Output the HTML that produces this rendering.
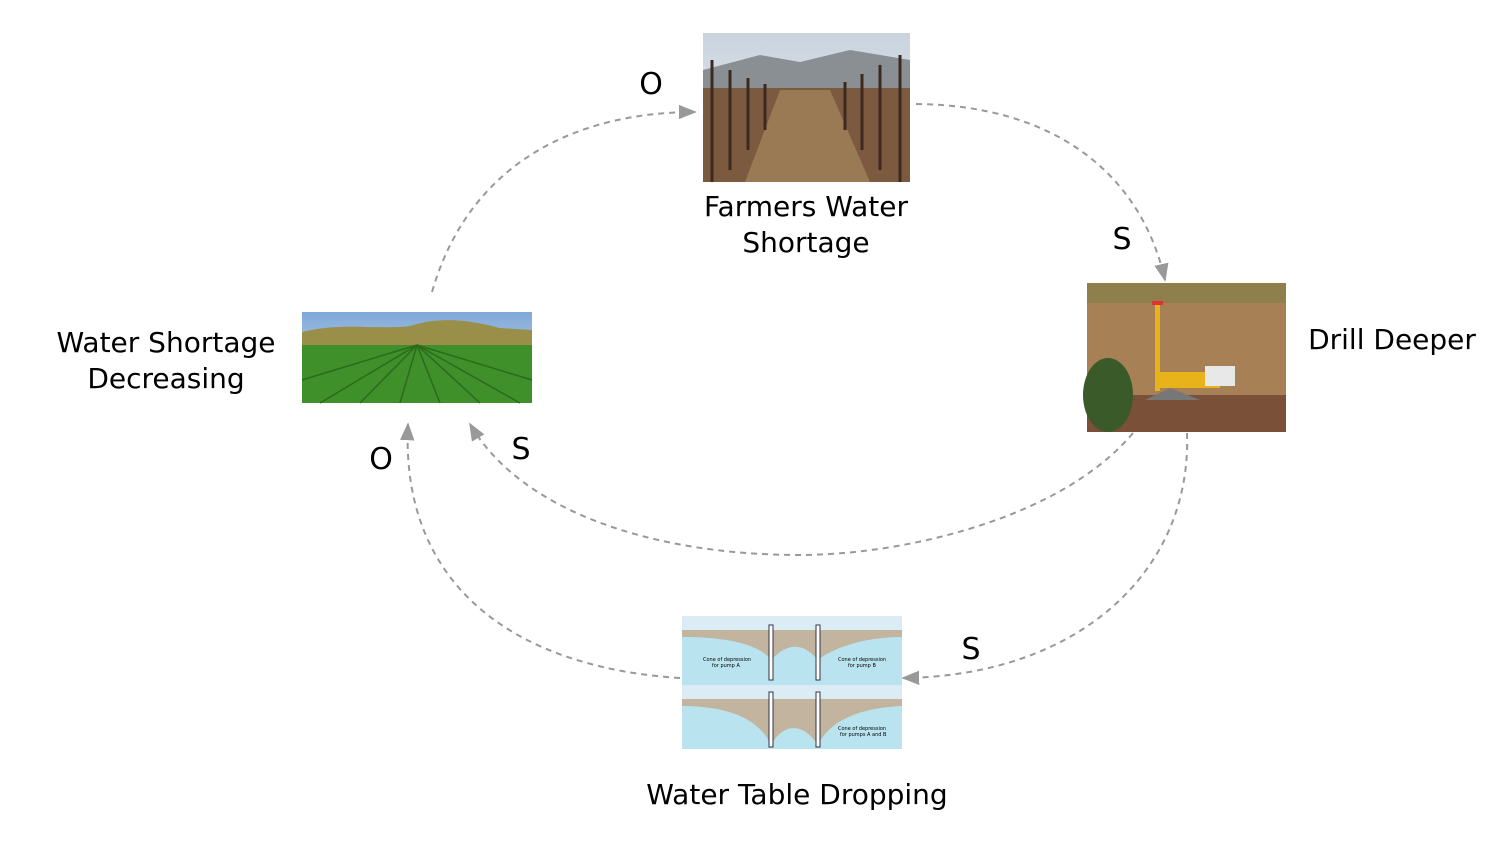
<!DOCTYPE html>
<html><head><meta charset="utf-8"><style>
body{margin:0;background:#fff;width:1508px;height:864px;overflow:hidden;font-family:"Comic Sans MS","DejaVu Sans","Liberation Sans",sans-serif}
svg{position:absolute;left:0;top:0}
text{font-family:"DejaVu Sans","Liberation Sans",sans-serif;fill:#000}
</style></head><body>
<svg width="1508" height="864">
<defs>
<marker id="ah" viewBox="0 0 10 10" refX="9" refY="5" markerWidth="9" markerHeight="9" orient="auto"><path d="M0,1 L10,5 L0,9 Z" fill="#999"/></marker>
<linearGradient id="sky" x1="0" y1="0" x2="0" y2="1"><stop offset="0" stop-color="#7fa8d8"/><stop offset="1" stop-color="#dfe8f0"/></linearGradient>
<linearGradient id="vsky" x1="0" y1="0" x2="0" y2="1"><stop offset="0" stop-color="#c9d3de"/><stop offset="1" stop-color="#eef0f2"/></linearGradient>
</defs>
<g fill="none" stroke="#999" stroke-width="2" stroke-dasharray="6,5">
<path d="M432,292 C470,160 580,112 695,112" marker-end="url(#ah)"/>
<path d="M916,104 C1050,105 1140,170 1165,280" marker-end="url(#ah)"/>
<path d="M1133,433 C1060,520 900,555 800,555 C650,555 520,510 470,424" marker-end="url(#ah)"/>
<path d="M1187,433 C1192,570 1080,676 903,678" marker-end="url(#ah)"/>
<path d="M680,678 C520,668 400,590 408,424" marker-end="url(#ah)"/>
</g>
<!-- vineyard -->
<g>
<rect x="703" y="33" width="207" height="149" fill="url(#vsky)"/>
<path d="M703,70 L760,55 L800,62 L850,50 L910,60 L910,90 L703,90Z" fill="#8a8f94"/>
<rect x="703" y="88" width="207" height="94" fill="#7b5a40"/>
<path d="M780,90 L830,90 L870,182 L745,182Z" fill="#9a7a55"/>
<g stroke="#3c2a1e" stroke-width="3">
<line x1="712" y1="60" x2="712" y2="182"/><line x1="730" y1="70" x2="730" y2="170"/><line x1="748" y1="78" x2="748" y2="150"/><line x1="765" y1="84" x2="765" y2="130"/>
<line x1="900" y1="55" x2="900" y2="182"/><line x1="880" y1="65" x2="880" y2="170"/><line x1="862" y1="74" x2="862" y2="150"/><line x1="845" y1="82" x2="845" y2="130"/>
</g>
</g>
<!-- field -->
<g>
<rect x="302" y="312" width="230" height="91" fill="url(#sky)"/>
<path d="M302,332 C340,322 380,330 410,326 C440,316 470,320 500,328 L532,330 L532,348 L302,348Z" fill="#9a8f48"/>
<rect x="302" y="345" width="230" height="58" fill="#3f8f2a"/>
<g stroke="#2a6b1c" stroke-width="1.5">
<line x1="417" y1="345" x2="320" y2="403"/><line x1="417" y1="345" x2="360" y2="403"/><line x1="417" y1="345" x2="400" y2="403"/><line x1="417" y1="345" x2="440" y2="403"/><line x1="417" y1="345" x2="480" y2="403"/><line x1="417" y1="345" x2="520" y2="403"/><line x1="417" y1="345" x2="302" y2="380"/><line x1="417" y1="345" x2="532" y2="380"/>
</g>
</g>
<!-- drill -->
<g>
<rect x="1087" y="283" width="199" height="149" fill="#a78055"/>
<rect x="1087" y="283" width="199" height="20" fill="#8e7f4c"/>
<rect x="1087" y="395" width="199" height="37" fill="#7a5038"/>
<rect x="1155" y="303" width="5" height="88" fill="#e8b21a"/>
<rect x="1152" y="301" width="11" height="4" fill="#d33"/>
<rect x="1160" y="372" width="60" height="16" fill="#e8b21a"/>
<rect x="1205" y="366" width="30" height="20" fill="#e8e8e8"/>
<path d="M1145,400 L1170,388 L1200,400Z" fill="#777"/>
<ellipse cx="1108" cy="395" rx="25" ry="37" fill="#3b5a2a"/>
</g>
<!-- water table -->
<g>
<rect x="682" y="616" width="220" height="133" fill="#b9e3ee"/>
<rect x="682" y="616" width="220" height="14" fill="#dbecf4"/>
<rect x="682" y="685" width="220" height="14" fill="#dbecf4"/>
<path d="M682,630 L902,630 L902,637 C860,637 830,650 818,660 C805,645 790,640 771,660 C760,645 730,637 682,637Z" fill="#c2b49e"/>
<path d="M682,699 L902,699 L902,706 C860,708 830,720 818,745 C805,725 785,720 771,745 C760,720 730,706 682,706Z" fill="#c2b49e"/>
<g fill="#fff" stroke="#334" stroke-width="1"><rect x="769" y="625" width="4" height="55"/><rect x="816" y="625" width="4" height="55"/><rect x="769" y="692" width="4" height="55"/><rect x="816" y="692" width="4" height="55"/></g>
<g font-size="5" style="font-family:'Liberation Sans',sans-serif"><text x="703" y="661">Cone of depression</text><text x="712" y="667">for pump A</text><text x="838" y="661">Cone of depression</text><text x="848" y="667">for pump B</text><text x="838" y="730">Cone of depression</text><text x="840" y="736">for pumps A and B</text></g>
</g>
<g font-size="28">
<text x="806" y="216" text-anchor="middle">Farmers Water</text>
<text x="806" y="252" text-anchor="middle">Shortage</text>
<text x="1392" y="349" text-anchor="middle">Drill Deeper</text>
<text x="166" y="352" text-anchor="middle">Water Shortage</text>
<text x="166" y="388" text-anchor="middle">Decreasing</text>
<text x="797" y="804" text-anchor="middle">Water Table Dropping</text>
</g>
<g font-size="30">
<text x="651" y="94" text-anchor="middle">O</text>
<text x="1122" y="249" text-anchor="middle">S</text>
<text x="521" y="459" text-anchor="middle">S</text>
<text x="381" y="469" text-anchor="middle">O</text>
<text x="971" y="659" text-anchor="middle">S</text>
</g>
</svg>
</body></html>
